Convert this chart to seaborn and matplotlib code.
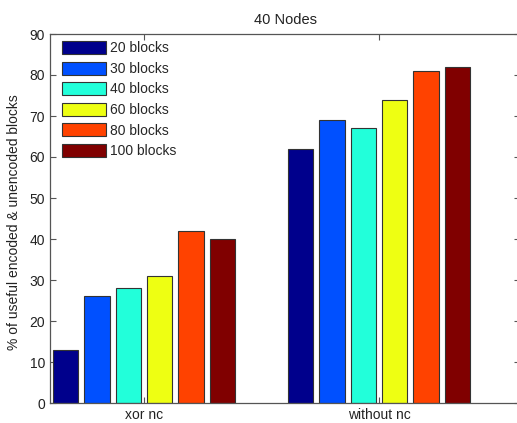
import matplotlib
matplotlib.use("Agg")
import matplotlib.pyplot as plt
import seaborn as sns
import pandas as pd

categories = ["xor nc", "without nc"]
series = ["20 blocks", "30 blocks", "40 blocks", "60 blocks", "80 blocks", "100 blocks"]
xor_nc = [13, 26, 28, 31, 42, 40]
without_nc = [62, 69, 67, 74, 81, 82]
colors = ["#00008C", "#0050FF", "#22FFDA", "#EEFF12", "#FF4200", "#800000"]

rows = []
for s, v in zip(series, xor_nc):
    rows.append({"scheme": categories[0], "blocks": s, "pct": v})
for s, v in zip(series, without_nc):
    rows.append({"scheme": categories[1], "blocks": s, "pct": v})
df = pd.DataFrame(rows)

sns.set_style("white")
plt.rcParams["font.family"] = ["Liberation Sans", "DejaVu Sans"]

fig = plt.figure(figsize=(5.17, 4.23), dpi=100)
ax = fig.add_axes([50 / 517, 20 / 423, 470 / 517, 369 / 423])

sns.barplot(data=df, x="scheme", y="pct", hue="blocks", order=categories,
            hue_order=series, palette=colors, errorbar=None, width=0.8,
            gap=0.2, edgecolor="#333333", linewidth=0.8, saturation=1,
            ax=ax)

ax.set_xlim(-0.4, 1.6)
ax.set_ylim(0, 90)
ax.set_yticks(range(0, 91, 10))
ax.set_xlabel("")
ax.set_ylabel("% of useful encoded & unencoded blocks", fontsize=10,
              color="#222222")
ax.yaxis.set_label_coords(-29 / 470, 0.49)
ax.set_title("40 Nodes", fontsize=10.5, color="#222222", pad=7)

for sp in ax.spines.values():
    sp.set_visible(True)
    sp.set_color("#555555")
    sp.set_linewidth(0.9)
ax.tick_params(direction="in", length=4, width=0.8, color="#555555",
               top=True, right=True, bottom=True, left=True,
               labelsize=10, labelcolor="#222222")

handles, labels = ax.get_legend_handles_labels()
ax.legend(handles, labels, loc="upper left",
          bbox_to_anchor=(12 / 470, 1 - 7 / 369), frameon=False,
          borderpad=0, borderaxespad=0, handlelength=3.17, handleheight=1.08,
          labelspacing=0.45, handletextpad=0.3, fontsize=10)

fig.savefig("out.png", dpi=100)
